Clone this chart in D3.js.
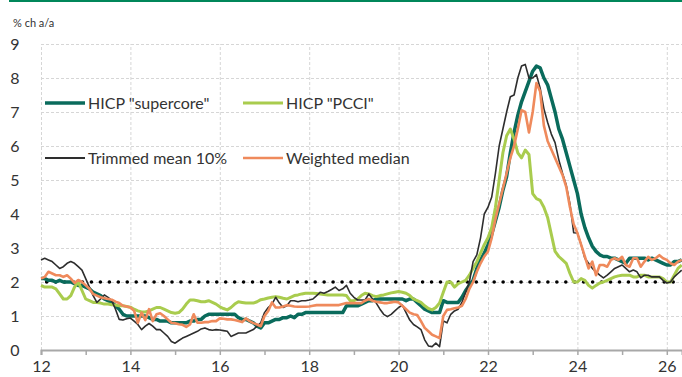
<!DOCTYPE html>
<html>
<head>
<meta charset="utf-8">
<script src="https://cdn.jsdelivr.net/npm/d3@7"></script>
<style>
  body { margin: 0; background: #fff; }
  svg { display: block; font-family: Lato, "Noto Sans", sans-serif; }
</style>
</head>
<body>
<div id="viz"></div>
<script>
// euro area underlying inflation measures, % y/y, monthly from Jan 2012

const startYear = 12;
const yTicks = [0, 1, 2, 3, 4, 5, 6, 7, 8, 9];
const xTicks = [12, 14, 16, 18, 20, 22, 24, 26];
const target = 2;

const supercore = [
  2.1, 2.1, 2.05, 2.05, 2.0, 2.05, 2.0, 2.0, 2.0, 1.95, 1.9, 1.9,
  1.85, 1.8, 1.7, 1.65, 1.6, 1.5, 1.45, 1.4, 1.3, 1.2, 1.05, 1.0,
  1.0, 1.0, 1.0, 1.0, 1.0, 0.95, 0.9, 0.9, 0.85, 0.85, 0.85, 0.8,
  0.8, 0.8, 0.8, 0.8, 0.85, 0.85, 0.9, 0.9, 1.0, 1.05, 1.05, 1.05,
  1.05, 1.05, 1.05, 1.05, 1.05, 0.95, 0.9, 0.9, 0.85, 0.8, 0.7, 0.65,
  0.8, 0.8, 0.85, 0.9, 0.9, 0.95, 0.95, 1.0, 0.95, 1.05, 1.05, 1.1,
  1.1, 1.1, 1.1, 1.1, 1.1, 1.1, 1.1, 1.1, 1.1, 1.1, 1.3, 1.3,
  1.3, 1.3, 1.35, 1.4, 1.45, 1.45, 1.5, 1.5, 1.5, 1.5, 1.5, 1.5,
  1.5, 1.5, 1.45, 1.5, 1.5, 1.4, 1.3, 1.2, 1.15, 1.1, 1.1, 1.1,
  1.45, 1.4, 1.4, 1.4, 1.4, 1.55, 1.75, 1.9, 2.05, 2.4, 2.65, 2.85,
  3.1, 3.4, 3.8, 4.2, 4.7, 5.1, 5.8, 6.4, 6.9, 7.3, 7.6, 7.9,
  8.2, 8.35, 8.3, 8.0, 7.8, 7.4, 7.0, 6.5, 6.2, 5.8, 5.4, 5.0,
  4.6, 4.0, 3.6, 3.3, 3.05, 2.9, 2.8, 2.75, 2.75, 2.7, 2.7, 2.65,
  2.6, 2.55, 2.7, 2.7, 2.7, 2.7, 2.7, 2.65, 2.7, 2.65, 2.6, 2.55,
  2.5, 2.5, 2.6, 2.6, 2.65
];

const pcci = [
  1.9, 1.85, 1.85, 1.85, 1.8, 1.65, 1.5, 1.5, 1.6, 1.85, 2.0, 1.75,
  1.5, 1.45, 1.4, 1.4, 1.38, 1.35, 1.35, 1.33, 1.32, 1.3, 1.3, 1.28,
  1.26, 1.2, 1.15, 1.12, 1.12, 1.15, 1.2, 1.25, 1.25, 1.2, 1.15, 1.1,
  1.08, 1.1, 1.2, 1.35, 1.47, 1.47, 1.45, 1.42, 1.42, 1.45, 1.4, 1.35,
  1.27, 1.22, 1.18, 1.25, 1.35, 1.42, 1.4, 1.38, 1.38, 1.38, 1.42, 1.48,
  1.5, 1.53, 1.55, 1.57, 1.55, 1.52, 1.5, 1.55, 1.6, 1.62, 1.65, 1.67,
  1.67, 1.67, 1.66, 1.65, 1.63, 1.62, 1.62, 1.62, 1.62, 1.62, 1.6, 1.45,
  1.45, 1.5, 1.6, 1.67, 1.65, 1.6, 1.57, 1.6, 1.62, 1.65, 1.68, 1.7,
  1.72, 1.7, 1.67, 1.6, 1.5, 1.45, 1.4, 1.3, 1.22, 1.18, 1.25, 1.38,
  1.7, 2.0, 2.0, 1.85, 1.95, 2.0, 2.05, 2.2, 2.4, 2.6, 2.85, 3.1,
  3.3, 3.6, 4.2, 5.0, 5.8, 6.3, 6.5, 6.2, 5.8, 5.65, 5.88, 5.75,
  4.6, 4.45, 4.4, 4.2, 3.9, 3.4, 2.9, 2.75, 2.65, 2.55, 2.25, 2.0,
  2.0, 2.1, 2.05, 1.9, 1.82, 1.9, 1.97, 2.0, 2.05, 2.1, 2.15, 2.18,
  2.2, 2.2, 2.2, 2.15, 2.15, 2.2, 2.2, 2.15, 2.15, 2.15, 2.15, 2.1,
  2.0, 2.0, 2.2, 2.4, 2.5
];

const trimmedMean = [
  2.65, 2.7, 2.65, 2.6, 2.5, 2.4, 2.45, 2.55, 2.6, 2.55, 2.45, 2.35,
  2.1, 1.85, 1.6, 1.4, 1.5, 1.62, 1.55, 1.45, 1.2, 0.9, 0.88, 0.92,
  0.94, 0.85, 0.75, 0.6, 0.7, 0.78, 0.7, 0.6, 0.6, 0.5, 0.4, 0.25,
  0.2, 0.28, 0.35, 0.4, 0.45, 0.5, 0.55, 0.62, 0.65, 0.6, 0.58, 0.6,
  0.59, 0.57, 0.55, 0.4, 0.45, 0.5, 0.5, 0.5, 0.55, 0.6, 0.7, 0.8,
  1.1, 1.25, 1.35, 1.55, 1.38, 1.25, 1.3, 1.45, 1.45, 1.42, 1.45, 1.45,
  1.47, 1.5, 1.6, 1.7, 1.67, 1.72, 1.78, 1.85, 1.75, 1.8, 1.9, 1.67,
  1.55, 1.47, 1.47, 1.47, 1.65, 1.5, 1.38, 1.2, 1.05, 0.98, 1.05, 1.15,
  1.25, 1.32, 1.1, 0.88, 0.75, 0.68, 0.6, 0.3, 0.12, 0.1, 0.2, 0.1,
  0.85, 0.8, 1.05, 1.15, 1.2, 1.4, 1.7, 2.0, 2.6, 2.8, 3.3, 4.0,
  4.2, 4.5, 5.2, 6.0, 6.5, 7.0, 7.45, 7.5, 8.0, 8.35, 8.4, 8.0,
  8.0, 8.1, 7.7, 7.1, 6.7, 6.35, 6.1, 5.6, 5.2, 4.85, 4.3, 3.45,
  3.44, 3.1, 2.7, 2.55, 2.4, 2.3, 2.2, 2.12, 2.2, 2.3, 2.4, 2.45,
  2.5, 2.4, 2.3, 2.35, 2.3, 2.12, 2.2, 2.2, 2.15, 2.15, 2.15, 2.05,
  1.97, 2.0, 2.15, 2.25, 2.35
];

const weightedMedian = [
  2.1, 2.15, 2.3, 2.25, 2.2, 2.2, 2.15, 2.2, 2.1, 1.97, 2.06, 2.0,
  1.9, 1.8, 1.65, 1.6, 1.55, 1.52, 1.5, 1.48, 1.42, 1.38, 1.3, 1.28,
  1.25, 1.15, 0.8, 1.1, 0.88, 1.2, 0.85, 1.05, 1.08, 1.0, 0.9, 0.8,
  0.79, 0.76, 0.74, 0.68, 0.75, 1.05, 0.8, 0.8, 0.82, 0.82, 0.85, 0.85,
  0.93, 0.92, 0.9, 0.9, 0.88, 0.85, 0.82, 0.93, 0.85, 0.79, 0.75, 0.7,
  1.0, 1.15, 1.4, 1.25, 1.25, 1.28, 1.32, 1.3, 1.28, 1.27, 1.27, 1.27,
  1.28, 1.3, 1.32, 1.32, 1.32, 1.32, 1.32, 1.32, 1.32, 1.35, 1.38, 1.38,
  1.38, 1.38, 1.38, 1.45, 1.5, 1.45, 1.42, 1.4, 1.38, 1.38, 1.4, 1.42,
  1.4, 1.3, 1.2, 1.1, 1.05, 1.03, 0.85, 0.65, 0.55, 0.45, 0.4, 0.35,
  1.0, 1.18, 1.2, 1.23, 1.25, 1.3, 1.5, 1.8, 2.0, 2.3, 2.55, 2.75,
  2.9, 3.3, 3.85, 4.3, 4.75, 5.2, 5.65, 6.0, 6.5, 7.05, 7.0, 6.4,
  7.0, 7.85, 7.6, 6.6, 6.15, 5.9, 5.65, 5.4, 5.15, 4.8, 4.2, 3.7,
  3.44, 3.1, 2.75, 2.4, 2.6, 2.2, 2.5, 2.5, 2.45, 2.65, 2.7, 2.65,
  2.74, 2.5, 2.45, 2.7, 2.7, 2.45, 2.6, 2.74, 2.65, 2.7, 2.79, 2.7,
  2.65, 2.55, 2.5, 2.6, 2.65
];

const seriesNames = ['HICP "supercore"', 'HICP "PCCI"', 'Trimmed mean 10%', 'Weighted median'];
const seriesColors = ['#0a6b5c', '#a9cc4e', '#2e2e2e', '#ef8a5c'];
const seriesWidths = [3.5, 3, 1.6, 2.6];

function drawChart() {
    const dimensions = {
        width: 682,
        height: 377,
        margins: { left: 41, right: 0, top: 44, bottom: 27 }
    };
    dimensions.boundedWidth = dimensions.width - dimensions.margins.left - dimensions.margins.right;
    dimensions.boundedHeight = dimensions.height - dimensions.margins.top - dimensions.margins.bottom;

    const months = supercore.map((d, i) => startYear + i / 12);
    const allSeries = [supercore, pcci, trimmedMean, weightedMedian];

    const viz = d3.select('#viz').append('svg')
        .attr('width', dimensions.width)
        .attr('height', dimensions.height);

    // green rule across the top
    viz.append('line')
        .attr('x1', 9).attr('x2', dimensions.width)
        .attr('y1', 1).attr('y2', 1)
        .attr('stroke', '#00875a')
        .attr('stroke-width', 2);

    viz.append('text')
        .attr('x', 13).attr('y', 27)
        .attr('fill', '#333')
        .style('font-size', '11px')
        .text('% ch a/a');

    const bounds = viz.append('g')
        .attr('transform', `translate(${dimensions.margins.left},${dimensions.margins.top})`);

    const xScale = d3.scaleLinear()
        .domain([12, 26.34])
        .range([0, dimensions.boundedWidth]);

    const yScale = d3.scaleLinear()
        .domain([0, 9])
        .range([dimensions.boundedHeight, 0]);

    // dashed grid
    const yGrid = bounds.append('g')
        .call(d3.axisLeft(yScale).tickValues(yTicks.filter(d => d > 0)).tickSize(-dimensions.boundedWidth).tickFormat(''));
    const xGrid = bounds.append('g')
        .attr('transform', `translate(0,${dimensions.boundedHeight})`)
        .call(d3.axisBottom(xScale).tickValues(xTicks).tickSize(-dimensions.boundedHeight).tickFormat(''));
    [yGrid, xGrid].forEach(g => {
        g.select('.domain').remove();
        g.selectAll('line')
            .attr('stroke', '#d6d6d6')
            .attr('stroke-dasharray', '3,2');
    });

    // y labels
    const yAxis = bounds.append('g')
        .call(d3.axisLeft(yScale).tickValues(yTicks).tickSize(0).tickPadding(0));
    yAxis.select('.domain').remove();
    yAxis.selectAll('text')
        .attr('x', -26)
        .attr('text-anchor', 'middle')
        .attr('fill', '#333')
        .style('font-size', '16px')
        .style('font-family', 'Lato, sans-serif');

    // x axis with minor ticks every year
    const xAxis = bounds.append('g')
        .attr('transform', `translate(0,${dimensions.boundedHeight})`)
        .call(d3.axisBottom(xScale).tickValues(d3.range(12, 27)).tickSize(5).tickPadding(6)
            .tickFormat(d => d % 2 === 0 ? d : ''));
    xAxis.select('.domain')
        .attr('stroke', '#a8a8a8')
        .attr('stroke-width', 2);
    xAxis.selectAll('line')
        .attr('stroke', '#a8a8a8')
        .attr('stroke-width', 1.5);
    xAxis.selectAll('text')
        .attr('fill', '#333')
        .style('font-size', '16px')
        .style('font-family', 'Lato, sans-serif');

    // 2% target, dotted
    bounds.append('line')
        .attr('x1', 5.7).attr('x2', dimensions.boundedWidth)
        .attr('y1', yScale(target)).attr('y2', yScale(target))
        .attr('stroke', '#000')
        .attr('stroke-width', 3.6)
        .attr('stroke-linecap', 'round')
        .attr('stroke-dasharray', '0,8.95');

    const line = d3.line()
        .x((d, i) => xScale(months[i]))
        .y(d => yScale(d));

    bounds.selectAll('.series')
        .data(allSeries)
        .enter()
        .append('path')
            .attr('class', 'series')
            .attr('d', d => line(d))
            .attr('fill', 'none')
            .attr('stroke', (d, i) => seriesColors[i])
            .attr('stroke-width', (d, i) => seriesWidths[i])
            .attr('stroke-linejoin', 'round');

    // legend, two rows of two
    const legendPos = [[45, 103], [243, 103], [45, 158], [243, 158]];
    const legend = viz.selectAll('.legend')
        .data(seriesNames)
        .enter()
        .append('g')
            .attr('class', 'legend')
            .attr('transform', (d, i) => `translate(${legendPos[i][0]},${legendPos[i][1]})`);
    legend.append('line')
        .attr('x1', 0).attr('x2', 40)
        .attr('stroke', (d, i) => seriesColors[i])
        .attr('stroke-width', (d, i) => Math.max(seriesWidths[i], 2));
    legend.append('text')
        .attr('x', 43)
        .attr('dy', '0.35em')
        .attr('fill', '#333')
        .style('font-size', '16px')
        .text(d => d);
}

drawChart();
</script>
</body>
</html>
